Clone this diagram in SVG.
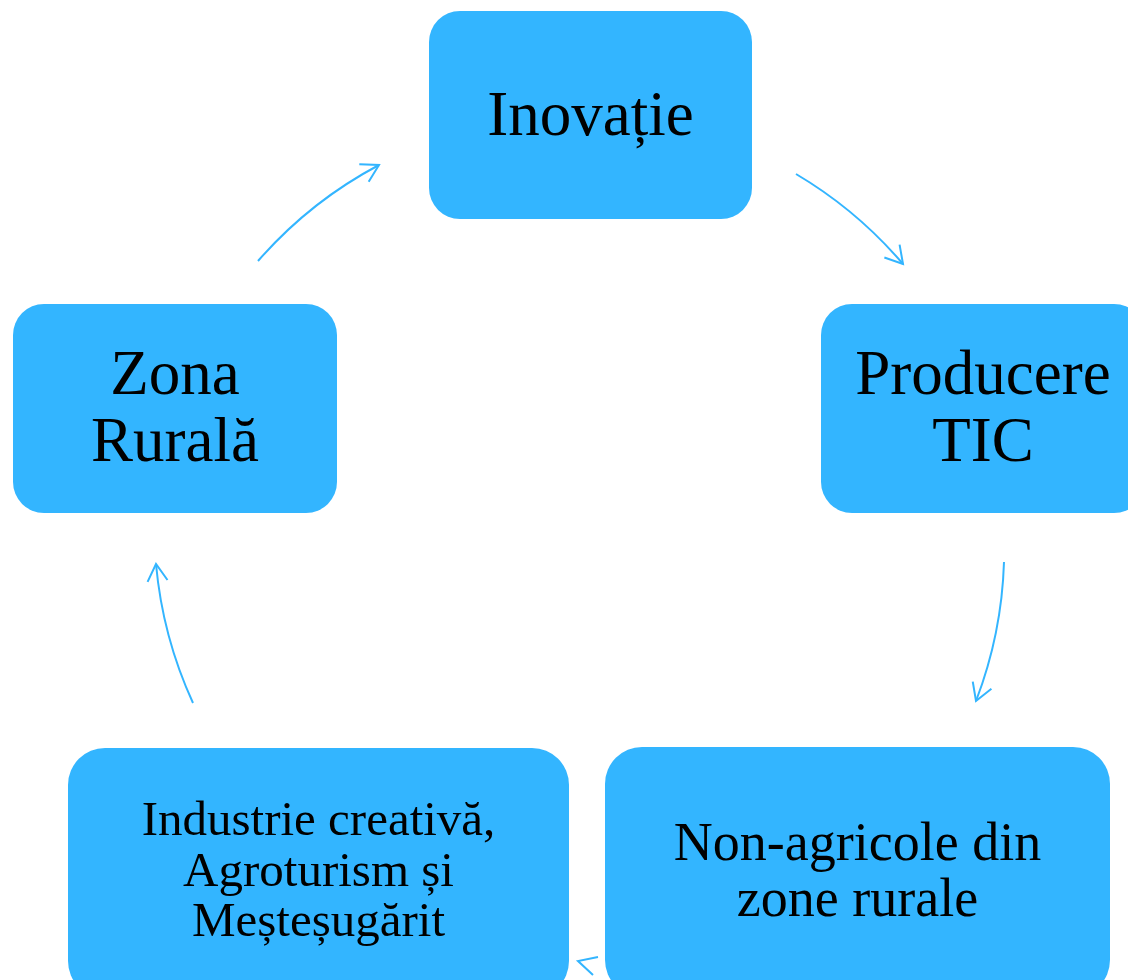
<svg xmlns="http://www.w3.org/2000/svg" width="1128" height="980" viewBox="0 0 1128 980">
<style>
.box{fill:#33b5ff;}
.lbl{font-family:"Liberation Serif","Times New Roman",serif;fill:#000;text-anchor:middle;}
.con{fill:none;stroke:#33b5ff;stroke-width:2;}
</style>
<defs>
<marker id="arr" markerUnits="userSpaceOnUse" markerWidth="40" markerHeight="40" viewBox="-25 -20 40 40" refX="0" refY="0" orient="auto" overflow="visible">
<path d="M-17,-10 L0,0 L-17,10" fill="none" stroke="#33b5ff" stroke-width="2"/>
</marker>
</defs>
<rect width="1128" height="980" fill="#fff"/>
<g id="connectors">
<path class="con" d="M258,261 A425,425 0 0 1 379,165" marker-end="url(#arr)"/>
<path class="con" d="M796,174 A425,425 0 0 1 903,264" marker-end="url(#arr)"/>
<path class="con" d="M1004,562 A425,425 0 0 1 976,701" marker-end="url(#arr)"/>
<path class="con" d="M598,957 L578,961 L593,975"/>
<path class="con" d="M193,703 A425,425 0 0 1 156,564" marker-end="url(#arr)"/>
</g>
<g id="node-inovatie">
<rect class="box" x="429" y="11" width="323" height="208" rx="31" ry="31"/>
<text class="lbl" x="590.5" y="135" font-size="63">Inovație</text>
</g>
<g id="node-producere">
<rect class="box" x="821" y="304" width="324" height="209" rx="31" ry="31"/>
<text class="lbl" x="983" y="394" font-size="63">Producere</text>
<text class="lbl" x="983" y="461" font-size="63">TIC</text>
</g>
<g id="node-nonagricole">
<rect class="box" x="605" y="747" width="505" height="250" rx="37" ry="37"/>
<text class="lbl" x="857.5" y="860" font-size="54">Non-agricole din</text>
<text class="lbl" x="857.5" y="916" font-size="54">zone rurale</text>
</g>
<g id="node-industrie">
<rect class="box" x="68" y="748" width="501" height="250" rx="37" ry="37"/>
<text class="lbl" x="318.5" y="835" font-size="49">Industrie creativă,</text>
<text class="lbl" x="318.5" y="886" font-size="49">Agroturism și</text>
<text class="lbl" x="318.5" y="936" font-size="49">Meșteșugărit</text>
</g>
<g id="node-zona">
<rect class="box" x="13" y="304" width="324" height="209" rx="31" ry="31"/>
<text class="lbl" x="175" y="394" font-size="63">Zona</text>
<text class="lbl" x="175" y="461" font-size="63">Rurală</text>
</g>
</svg>
